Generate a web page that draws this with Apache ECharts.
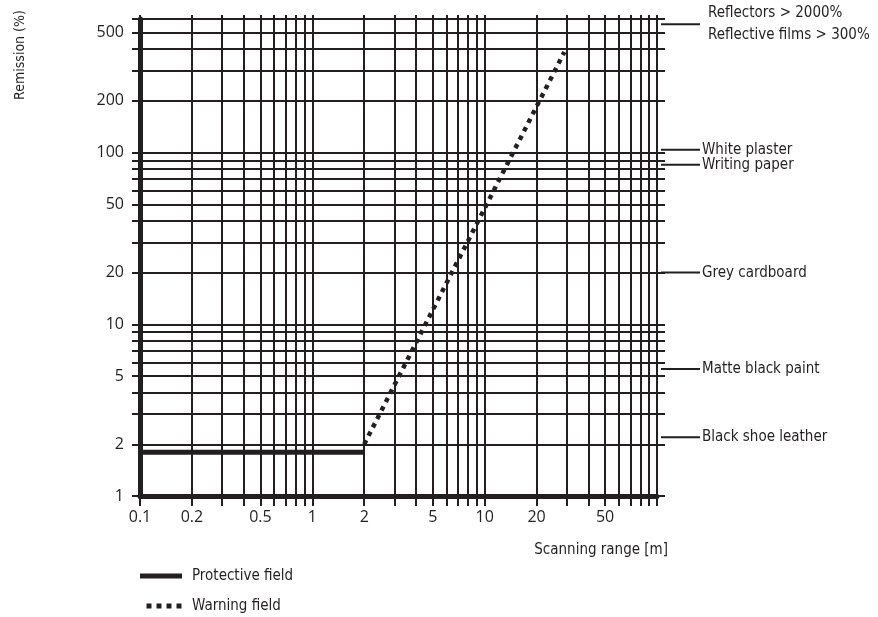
<!DOCTYPE html>
<html>
<head>
<meta charset="utf-8">
<title>Remission vs scanning range</title>
<script src="https://cdn.jsdelivr.net/npm/echarts@6.0.0/dist/echarts.min.js"></script>
<style>
    html, body { margin: 0; padding: 0; background: #fff; }
    #chart { width: 878px; height: 617px; }
</style>
</head>
<body>
<div id="chart"></div>
<script>
// grid lines of the log paper
const xGridValues = [0.1, 0.2, 0.3, 0.4, 0.5, 0.6, 0.7, 0.8, 0.9,
    1, 2, 3, 4, 5, 6, 7, 8, 9,
    10, 20, 30, 40, 50, 60, 70, 80, 90, 100]
const xLabelValues = [0.1, 0.2, 0.5, 1, 2, 5, 10, 20, 50]
const yGridValues = [1, 2, 3, 4, 5, 6, 7, 8, 9,
    10, 20, 30, 40, 50, 60, 70, 80, 90,
    100, 200, 300, 400, 500, 600]
const yLabelValues = [1, 2, 5, 10, 20, 50, 100, 200, 500]

// fields
const protectiveRange = [0.1, 2]
const protectiveRemission = [1.8, 1.8]
const warningRange = [2, 29]
const warningRemission = [2, 385]

// materials on the right
const materialNames = ['Reflectors > 2000%\nReflective films > 300%', 'White plaster', 'Writing paper',
    'Grey cardboard', 'Matte black paint', 'Black shoe leather']
const materialRemission = [560, 104, 85, 20, 5.5, 2.2]

const ink = '#231f20'
const narrow = "'Liberation Sans Narrow', 'DejaVu Sans Condensed', sans-serif"
const plain = "'Open Sans', 'Noto Sans', sans-serif"

const chart = echarts.init(document.getElementById('chart'))

const logAxis = (extra) => Object.assign({
    type: 'log',
    logBase: 10,
    axisLine: { show: false },
    axisTick: { show: false },
    axisLabel: { show: false },
    splitLine: { show: false },
    minorTick: { show: false },
    minorSplitLine: { show: false }
}, extra)

const series = [
    {
        name: 'Protective field',
        type: 'line',
        xAxisIndex: 0,
        yAxisIndex: 0,
        symbol: 'none',
        z: 5,
        lineStyle: { color: ink, width: 5, cap: 'butt' },
        itemStyle: { color: ink },
        data: protectiveRange.map((x, i) => [x, protectiveRemission[i]])
    },
    {
        name: 'Warning field',
        type: 'line',
        xAxisIndex: 0,
        yAxisIndex: 0,
        symbol: 'none',
        z: 5,
        lineStyle: { color: ink, width: 4.5, type: [4.5, 5], cap: 'butt' },
        itemStyle: { color: ink },
        data: warningRange.map((x, i) => [x, warningRemission[i]])
    }
]

// short leader lines with the material names
materialNames.forEach((name, i) => {
    series.push({
        name: 'm' + i,
        type: 'line',
        xAxisIndex: 2,
        yAxisIndex: 2,
        symbol: 'none',
        silent: true,
        lineStyle: { color: ink, width: 2 },
        data: [[0, materialRemission[i]], [1, materialRemission[i]]],
        endLabel: {
            show: true,
            distance: i === 0 ? 8 : 2,
            formatter: () => name,
            color: ink,
            fontFamily: narrow,
            fontSize: 15,
            lineHeight: 22
        }
    })
})

const option = {
    animation: false,
    backgroundColor: '#fff',
    grid: [
        { left: 140, right: 221, top: 19, bottom: 121 },
        { left: 661, width: 39, top: 19, bottom: 121 }
    ],
    xAxis: [
        logAxis({
            gridIndex: 0,
            position: 'bottom',
            min: 0.1,
            max: 100,
            axisLine: { show: true, lineStyle: { color: ink, width: 5 } },
            axisTick: { show: true, length: 10, customValues: xGridValues, lineStyle: { color: ink, width: 2 } },
            splitLine: { show: true, lineStyle: { color: ink, width: 2 } },
            axisLabel: {
                show: true,
                customValues: xLabelValues,
                margin: 13,
                color: ink,
                fontFamily: plain,
                fontSize: 16,
                formatter: (v) => String(v)
            },
            name: 'Scanning range [m]',
            nameLocation: 'end',
            nameGap: 11,
            nameTextStyle: {
                align: 'right',
                verticalAlign: 'top',
                padding: [47, 0, 0, 0],
                color: ink,
                fontFamily: narrow,
                fontSize: 15
            }
        }),
        // top ticks poking out above the grid
        logAxis({
            gridIndex: 0,
            position: 'top',
            min: 0.1,
            max: 100,
            axisTick: { show: true, length: 4, customValues: xGridValues, lineStyle: { color: ink, width: 2 } }
        }),
        { type: 'value', gridIndex: 1, min: 0, max: 1, show: false }
    ],
    yAxis: [
        logAxis({
            gridIndex: 0,
            position: 'left',
            min: 1,
            max: 600,
            axisLine: { show: true, lineStyle: { color: ink, width: 5 } },
            axisTick: { show: true, length: 8, customValues: yGridValues, lineStyle: { color: ink, width: 2 } },
            splitLine: { show: true, lineStyle: { color: ink, width: 2 } },
            axisLabel: {
                show: true,
                customValues: yLabelValues,
                margin: 16,
                color: ink,
                fontFamily: plain,
                fontSize: 16,
                formatter: (v) => String(v)
            }
        }),
        // right ticks poking out past the grid
        logAxis({
            gridIndex: 0,
            position: 'right',
            min: 1,
            max: 600,
            axisTick: { show: true, length: 8, customValues: yGridValues, lineStyle: { color: ink, width: 2 } }
        }),
        logAxis({ gridIndex: 1, min: 1, max: 600, show: false })
    ],
    legend: {
        data: [
            { name: 'Protective field', icon: 'rect' },
            { name: 'Warning field', icon: 'path://M6,0h5v5h-5z M16,0h5v5h-5z M26,0h5v5h-5z M36,0h5v5h-5z M0,0h0.01v0.01h-0.01z' }
        ],
        orient: 'vertical',
        left: 140,
        top: 566,
        padding: 0,
        itemWidth: 42,
        itemHeight: 5,
        itemGap: 10,
        itemStyle: { color: ink },
        textStyle: { color: ink, fontFamily: narrow, fontSize: 15, padding: [0, 0, 0, 5], lineHeight: 20 }
    },
    graphic: [
        {
            type: 'text',
            x: 20,
            y: 55,
            rotation: Math.PI / 2,
            style: {
                text: 'Remission (%)',
                fill: ink,
                font: '14px ' + narrow,
                align: 'center',
                verticalAlign: 'middle'
            }
        }
    ],
    series: series
}

chart.setOption(option)
</script>
</body>
</html>
